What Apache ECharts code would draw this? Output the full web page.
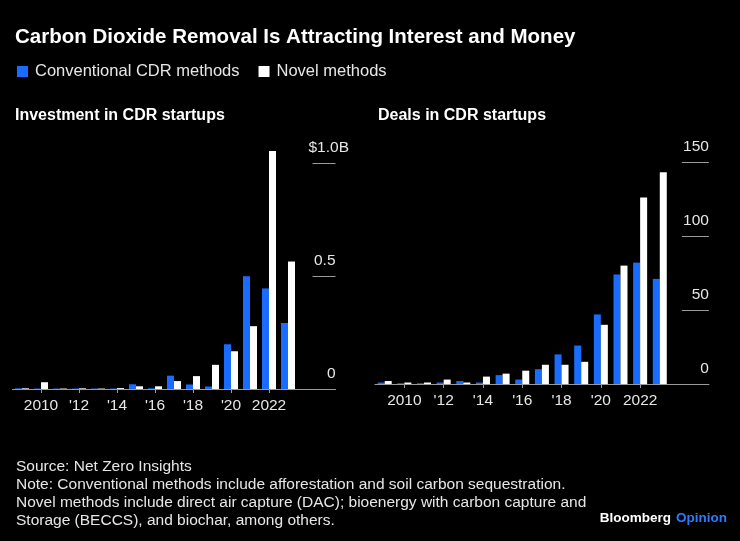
<!DOCTYPE html>
<html>
<head>
<meta charset="utf-8">
<script src="https://cdn.jsdelivr.net/npm/echarts@6/dist/echarts.min.js"></script>
<style>html,body{margin:0;padding:0;background:#000;}#c{width:740px;height:541px;}</style>
</head>
<body>
<div id="c"></div>
<script>
var years = ['2009','2010','2011','2012','2013','2014','2015','2016','2017','2018','2019','2020','2021','2022','2023'];
var investConventional = [0.003, 0.002, 0.002, 0.002, 0.002, 0.002, 0.021, 0.003, 0.059, 0.02, 0.011, 0.198, 0.499, 0.445, 0.292];
var investNovel = [0.003, 0.03, 0.002, 0.003, 0.002, 0.004, 0.012, 0.012, 0.035, 0.057, 0.107, 0.167, 0.278, 1.053, 0.564];
var dealsConventional = [1, 0.5, 0.5, 1, 2, 1, 6, 3, 10, 20, 26, 47, 74, 82, 71];
var dealsNovel = [2, 1, 1, 3, 1, 5, 7, 9, 13, 13, 15, 40, 80, 126, 143];
var investTicks = [0, 0.5, 1];
var dealsTicks = [0, 50, 100, 150];
var shownYears = ['2010','2012','2014','2016','2018','2020','2022'];

var BLUE = '#1a6bff', WHITE = '#ffffff', GRID = '#9a9a9a', TXT = '#e6e6e6';
var FONT = '"Liberation Sans", Arial, sans-serif';

function yearLabel(v) {
  if (v === '2010' || v === '2022') return v;
  return "'" + String(v).slice(2);
}
function showYear(i, v) { return shownYears.indexOf(v) >= 0; }

function xAxisFor(gi) {
  return {
    type: 'category', gridIndex: gi, data: years, max: years.length + 1,
    axisLine: { lineStyle: { color: GRID, width: 1 } },
    axisTick: { show: true, interval: showYear, alignWithLabel: true, length: 4, lineStyle: { color: GRID } },
    axisLabel: { interval: showYear, formatter: yearLabel, color: TXT, fontSize: 15.5, fontFamily: FONT, margin: 9 }
  };
}

var chart = echarts.init(document.getElementById('c'));
chart.setOption({
  backgroundColor: '#000',
  animation: false,
  textStyle: { fontFamily: FONT },
  title: [
    { text: 'Carbon Dioxide Removal Is Attracting Interest and Money', left: 10, top: 22,
      textStyle: { color: '#fff', fontSize: 20.5, fontWeight: 'bold', fontFamily: FONT } },
    { text: 'Investment in CDR startups', left: 10, top: 103,
      textStyle: { color: '#fff', fontSize: 16, fontWeight: 'bold', fontFamily: FONT } },
    { text: 'Deals in CDR startups', left: 373, top: 103,
      textStyle: { color: '#fff', fontSize: 16, fontWeight: 'bold', fontFamily: FONT } },
    { text: 'Source: Net Zero Insights\nNote: Conventional methods include afforestation and soil carbon sequestration.\nNovel methods include direct air capture (DAC); bioenergy with carbon capture and\nStorage (BECCS), and biochar, among others.',
      left: 11, top: 453,
      textStyle: { color: TXT, fontSize: 15.5, lineHeight: 18, fontWeight: 'normal', fontFamily: FONT } },
    { text: '{b|Bloomberg} {o|Opinion}', right: 8, top: 504,
      textStyle: { rich: {
        b: { color: '#fff', fontSize: 13.5, fontWeight: 'bold', fontFamily: FONT },
        o: { color: '#2a7bff', fontSize: 13.5, fontFamily: FONT } } } }
  ],
  legend: {
    left: 12, top: 58, icon: 'rect', itemWidth: 11, itemHeight: 11, itemGap: 19,
    textStyle: { color: TXT, fontSize: 16.5, fontFamily: FONT, padding: [0, 0, 0, 2] },
    data: ['Conventional CDR methods', 'Novel methods']
  },
  grid: [
    { left: 12.5, width: 323, top: 140.4, height: 248.6 },
    { left: 374.9, width: 334, top: 147.2, height: 236.8 }
  ],
  xAxis: [xAxisFor(0), xAxisFor(1)],
  yAxis: [
    { type: 'value', gridIndex: 0, position: 'right', min: 0, max: 1.1,
      splitLine: { show: false }, axisLine: { show: false },
      axisTick: { show: true, inside: true, length: 23, customValues: investTicks, lineStyle: { color: GRID } },
      axisLabel: { customValues: investTicks, align: 'right', verticalAlign: 'bottom', margin: 0,
        padding: [0, 0, 7, 0], color: TXT, fontSize: 15.5, fontFamily: FONT,
        formatter: function (v) { return v === 1 ? '{w|$1.0B}' : (v === 0 ? '0' : String(v)); },
        rich: { w: { width: 27, align: 'left', color: TXT, fontSize: 15.5, fontFamily: FONT } } } },
    { type: 'value', gridIndex: 1, position: 'right', min: 0, max: 160,
      splitLine: { show: false }, axisLine: { show: false },
      axisTick: { show: true, inside: true, length: 27, customValues: dealsTicks, lineStyle: { color: GRID } },
      axisLabel: { customValues: dealsTicks, align: 'right', verticalAlign: 'bottom', margin: 0,
        padding: [0, 0, 7, 0], color: TXT, fontSize: 15.5, fontFamily: FONT } }
  ],
  series: [
    { name: 'Conventional CDR methods', type: 'bar', xAxisIndex: 0, yAxisIndex: 0, data: investConventional,
      barWidth: 7, barGap: '0%', itemStyle: { color: BLUE } },
    { name: 'Novel methods', type: 'bar', xAxisIndex: 0, yAxisIndex: 0, data: investNovel,
      barWidth: 7, barGap: '0%', itemStyle: { color: WHITE } },
    { name: 'Conventional CDR methods', type: 'bar', xAxisIndex: 1, yAxisIndex: 1, data: dealsConventional,
      barWidth: 7, barGap: '0%', itemStyle: { color: BLUE } },
    { name: 'Novel methods', type: 'bar', xAxisIndex: 1, yAxisIndex: 1, data: dealsNovel,
      barWidth: 7, barGap: '0%', itemStyle: { color: WHITE } }
  ]
});
</script>
</body>
</html>
